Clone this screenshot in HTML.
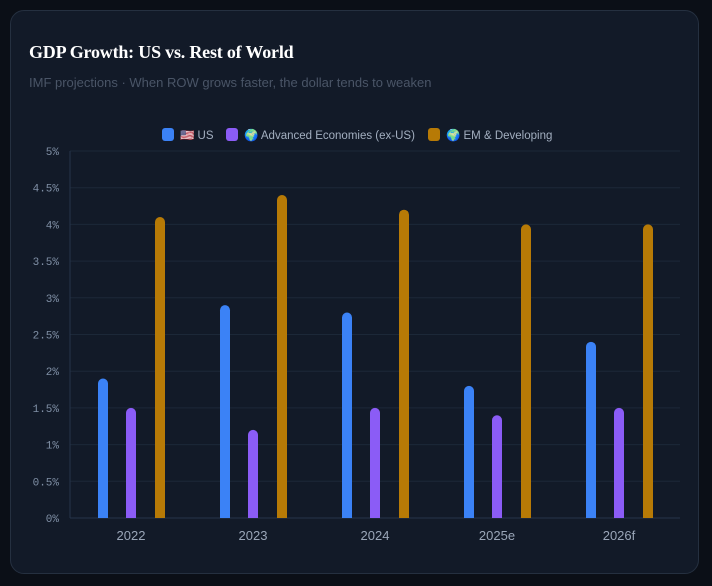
<!DOCTYPE html>
<html><head><meta charset="utf-8"><style>
html,body{margin:0;padding:0;background:#0b0f17;width:712px;height:586px;overflow:hidden}
.card{position:absolute;left:10px;top:10px;width:689px;height:564px;background:#121a28;border:1px solid #253040;border-radius:14px;box-sizing:border-box}
.title{position:absolute;left:29px;top:42px;font-family:"Liberation Serif",serif;font-weight:bold;font-size:18px;color:#fff;letter-spacing:-0.2px}
.sub{position:absolute;left:29px;top:75px;font-family:"Liberation Sans",sans-serif;font-size:13px;color:#4a5567}
svg{position:absolute;left:0;top:0}
</style></head><body>
<div class="card"></div>
<div class="title">GDP Growth: US vs. Rest of World</div>
<div class="sub">IMF projections · When ROW grows faster, the dollar tends to weaken</div>
<svg id="c" width="712" height="586"></svg>
<script>
const categories=["2022","2023","2024","2025e","2026f"];
const usValues=[1.9,2.9,2.8,1.8,2.4];
const advValues=[1.5,1.2,1.5,1.4,1.5];
const emValues=[4.1,4.4,4.2,4.0,4.0];
const yTicks=[0,0.5,1,1.5,2,2.5,3,3.5,4,4.5,5];
const tickLabels=["0%","0.5%","1%","1.5%","2%","2.5%","3%","3.5%","4%","4.5%","5%"];
const seriesNames=["🇺🇸 US","🌍 Advanced Economies (ex-US)","🌍 EM & Developing"];
const colors=["#3b82f6","#8b5cf6","#b77a06"];
const svg=document.getElementById('c');const NS="http://www.w3.org/2000/svg";
const X0=70,X1=680,Y0=518,Y1=151;
const y=v=>Y0-(v/5)*(Y0-Y1);
const band=(X1-X0)/categories.length;
const xc=i=>X0+band*(i+0.5);
function el(t,a,txt){const e=document.createElementNS(NS,t);for(const k in a)e.setAttribute(k,a[k]);if(txt!=null)e.textContent=txt;svg.appendChild(e);return e;}
yTicks.forEach((t,i)=>{
 const g=el('line',{x1:X0,x2:X1,y1:y(t),y2:y(t),stroke:i==0?'#26344a':'#1c2838','stroke-width':1});
 
 
 const l=el('text',{x:59,y:y(t)+4,'text-anchor':'end','font-family':'Liberation Mono,monospace','font-size':11,fill:'#8090a6'},tickLabels[i]);
 
 
});
const ax=el('line',{x1:X0,x2:X0,y1:Y1,y2:Y0,stroke:'#26344a'});


const series=[usValues,advValues,emValues];const offs=[-28,0,29];const w=10;
categories.forEach((c,i)=>{
 series.forEach((s,j)=>{
  const cx=xc(i)+offs[j],top=y(s[i]),h=Y0-top;
  const p=el('path',{d:`M${cx-w/2},${Y0}V${top+5}A5,5 0 0 1 ${cx+w/2},${top+5}V${Y0}Z`,fill:colors[j]});
  
  
 });
 const t=el('text',{x:xc(i),y:540,'text-anchor':'middle','font-family':'Liberation Sans,sans-serif','font-size':13,fill:'#9aa6b8'},c);
 
 
});
const lx=[162,226,428];
seriesNames.forEach((n,j)=>{
 const r=el('rect',{x:lx[j],y:128,width:12,height:13,rx:3,fill:colors[j]});
 
 
 const t=el('text',{x:lx[j]+18,y:139,'font-family':'Liberation Sans,Noto Sans CJK JP,sans-serif','font-size':11.5,fill:'#a3afc0'},n);
 
 
});
</script>
</body></html>
